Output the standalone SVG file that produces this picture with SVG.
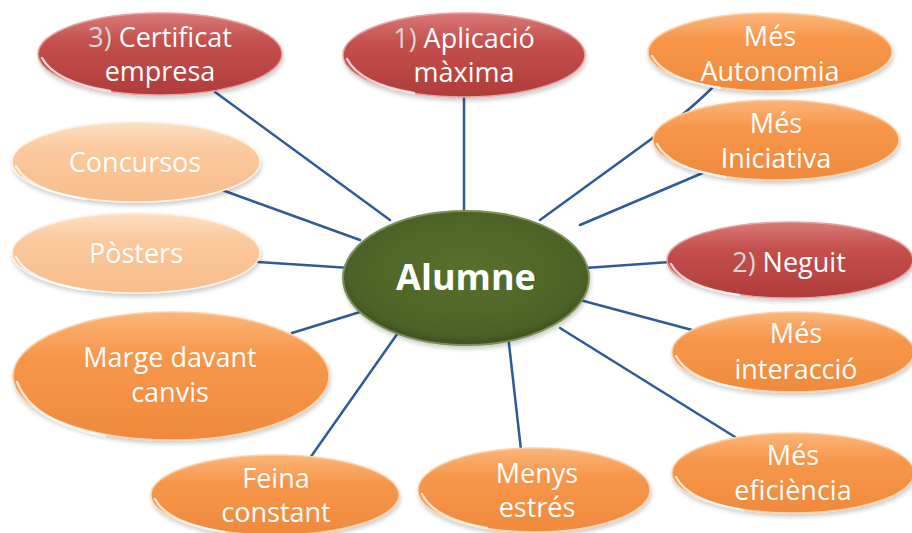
<svg xmlns="http://www.w3.org/2000/svg" width="912" height="533" viewBox="0 0 912 533">
<defs>
<linearGradient id="gRed" x1="0" y1="0" x2="0" y2="1">
<stop offset="0" stop-color="#d97a78"/><stop offset="0.35" stop-color="#c4504e"/><stop offset="1" stop-color="#b03c3a"/>
</linearGradient>
<linearGradient id="gOr" x1="0" y1="0" x2="0" y2="1">
<stop offset="0" stop-color="#fbb57a"/><stop offset="0.35" stop-color="#f7964a"/><stop offset="1" stop-color="#ef8a3c"/>
</linearGradient>
<linearGradient id="gPe" x1="0" y1="0" x2="0" y2="1">
<stop offset="0" stop-color="#fde0c4"/><stop offset="0.35" stop-color="#fbc89c"/><stop offset="1" stop-color="#f8bd8c"/>
</linearGradient>
<radialGradient id="gGr" cx="0.5" cy="0.45" r="0.55">
<stop offset="0" stop-color="#56702c"/><stop offset="0.85" stop-color="#4c6326"/><stop offset="1" stop-color="#3d5220"/>
</radialGradient>
<filter id="sh" x="-10%" y="-15%" width="120%" height="135%">
<feDropShadow dx="1" dy="3" stdDeviation="2" flood-color="#000" flood-opacity="0.2"/>
</filter>
</defs>
<style>
.red{fill:url(#gRed);stroke:#e6a3a0;stroke-width:1.5;filter:url(#sh)}
.or{fill:url(#gOr);stroke:#fcd1a8;stroke-width:1.5;filter:url(#sh)}
.pe{fill:url(#gPe);stroke:#fff0e0;stroke-width:1.5;filter:url(#sh)}
.ctr{fill:url(#gGr);stroke:#7d8f5a;stroke-width:2;filter:url(#sh)}
.hl{fill:none;stroke:#fff;stroke-width:2.5;stroke-linecap:round;opacity:0.75}
.t{font-family:"Open Sans","Liberation Sans",sans-serif;font-size:27px;fill:#fff;text-anchor:middle}
.tb{font-family:"Open Sans","Liberation Sans",sans-serif;font-size:36px;font-weight:bold;fill:#fff;text-anchor:middle}
.n{fill:#d6d6d6}
.c{stroke:#2f5b97;stroke-width:2.5;fill:none;stroke-linecap:round}
</style>
<rect width="912" height="533" fill="#fff"/>
<g id="connectors">
<line class="c" x1="215" y1="92" x2="390" y2="220"/>
<line class="c" x1="464" y1="96" x2="464" y2="215"/>
<path class="c" d="M712 88 Q690 110 650 140 L540 220"/>
<line class="c" x1="705" y1="172" x2="580" y2="225"/>
<line class="c" x1="222" y1="190" x2="360" y2="240"/>
<line class="c" x1="258" y1="262" x2="350" y2="268"/>
<line class="c" x1="585" y1="268" x2="670" y2="262"/>
<line class="c" x1="292" y1="333" x2="360" y2="312"/>
<line class="c" x1="310" y1="458" x2="400" y2="330"/>
<line class="c" x1="521" y1="450" x2="508" y2="335"/>
<line class="c" x1="580" y1="300" x2="692" y2="330"/>
<line class="c" x1="560" y1="328" x2="735" y2="437"/>
</g>
<g id="n-certificat">
<ellipse class="red" cx="160" cy="54" rx="122" ry="41"/>
<path class="hl" d="M42 58 Q55 82 110 91"/>
<text class="t" x="160" y="47"><tspan class="n">3)</tspan> Certificat</text>
<text class="t" x="160" y="81">empresa</text>
</g>
<g id="n-aplicacio">
<ellipse class="red" cx="464" cy="55" rx="121" ry="42"/>
<path class="hl" d="M347 59 Q360 84 414 93"/>
<text class="t" x="464" y="48"><tspan class="n">1)</tspan> Aplicació</text>
<text class="t" x="464" y="82">màxima</text>
</g>
<g id="n-autonomia">
<ellipse class="or" cx="770" cy="52" rx="122" ry="39"/>
<path class="hl" d="M652 56 Q664 79 720 88"/>
<text class="t" x="770" y="46">Més</text>
<text class="t" x="770" y="81">Autonomia</text>
</g>
<g id="n-iniciativa">
<ellipse class="or" cx="776" cy="140" rx="123" ry="40"/>
<path class="hl" d="M657 144 Q669 168 725 177"/>
<text class="t" x="776" y="133">Més</text>
<text class="t" x="776" y="168">Iniciativa</text>
</g>
<g id="n-concursos">
<ellipse class="pe" cx="136" cy="162" rx="124" ry="40"/>
<path class="hl" d="M16 166 Q28 190 85 199"/>
<text class="t" x="135" y="172">Concursos</text>
</g>
<g id="n-posters">
<ellipse class="pe" cx="136" cy="253" rx="124" ry="40"/>
<path class="hl" d="M16 257 Q28 281 85 290"/>
<text class="t" x="136" y="263">Pòsters</text>
</g>
<g id="n-alumne">
<ellipse class="ctr" cx="466" cy="278" rx="123" ry="67"/>
<text class="tb" x="466" y="290">Alumne</text>
</g>
<g id="n-neguit">
<ellipse class="red" cx="790" cy="260" rx="123" ry="38"/>
<path class="hl" d="M671 264 Q683 287 739 295"/>
<text class="t" x="789" y="272"><tspan class="n">2)</tspan> Neguit</text>
</g>
<g id="n-marge">
<ellipse class="or" cx="171" cy="376" rx="158" ry="64"/>
<path class="hl" d="M17 382 Q32 422 105 436"/>
<text class="t" x="170" y="367">Marge davant</text>
<text class="t" x="170" y="402">canvis</text>
</g>
<g id="n-interaccio">
<ellipse class="or" cx="793" cy="352" rx="121" ry="40"/>
<path class="hl" d="M676 356 Q688 380 743 389"/>
<text class="t" x="796" y="343">Més</text>
<text class="t" x="796" y="379">interacció</text>
</g>
<g id="n-eficiencia">
<ellipse class="or" cx="793" cy="473" rx="121" ry="40"/>
<path class="hl" d="M676 477 Q688 501 743 510"/>
<text class="t" x="793" y="465">Més</text>
<text class="t" x="793" y="500">eficiència</text>
</g>
<g id="n-feina">
<ellipse class="or" cx="275" cy="495" rx="124" ry="40"/>
<path class="hl" d="M155 499 Q167 523 224 532"/>
<text class="t" x="276" y="488">Feina</text>
<text class="t" x="276" y="522">constant</text>
</g>
<g id="n-menys">
<ellipse class="or" cx="534" cy="490" rx="116" ry="42"/>
<path class="hl" d="M422 494 Q434 519 487 528"/>
<text class="t" x="537" y="483">Menys</text>
<text class="t" x="537" y="517">estrés</text>
</g>
</svg>
